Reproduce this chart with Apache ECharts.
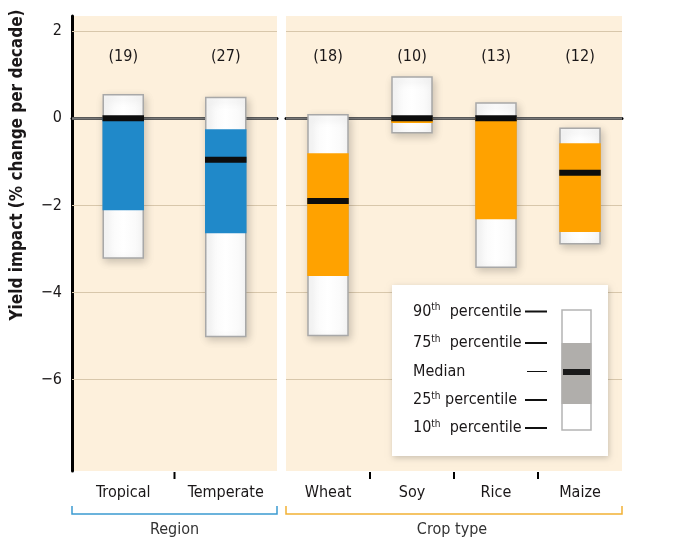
<!DOCTYPE html>
<html><head><meta charset="utf-8">
<script src="https://cdn.jsdelivr.net/npm/echarts@6/dist/echarts.min.js"></script>
<style>html,body{margin:0;padding:0;background:#fff}#c{width:693px;height:551px}</style>
</head><body><div id="c"></div>
<script>
// ---- data ----
const regionCats = ['Tropical', 'Temperate'];
const regionCounts = [19, 27];
const regionP10 = [-3.21, -5.01];
const regionP25 = [-2.11, -2.64];
const regionMedian = [0.0, -0.95];
const regionP75 = [0.0, -0.25];
const regionP90 = [0.54, 0.48];

const cropCats = ['Wheat', 'Soy', 'Rice', 'Maize'];
const cropCounts = [18, 10, 13, 12];
const cropP10 = [-4.99, -0.33, -3.42, -2.88];
const cropP25 = [-3.62, -0.11, -2.32, -2.61];
const cropMedian = [-1.90, 0.0, 0.0, -1.25];
const cropP75 = [-0.80, 0.0, 0.0, -0.57];
const cropP90 = [0.08, 0.95, 0.35, -0.23];

const yTickLabels = [2, 0, -2, -4, -6];
const yRange = [-8.1, 2.35];

// ---- styling ----
const FONT = '"Liberation Sans Narrow","DejaVu Sans Condensed","Noto Sans",sans-serif';
const TXT = '#1a1718';
const BG = '#fdf0dc';
const BLUE = '#2089c9';
const ORANGE = '#ffa200';
const COUNT_Y = 1.42;

function rows(p10, p25, med, p75, p90, counts) {
  return p10.map((v, i) => [i, p10[i], p25[i], med[i], p75[i], p90[i], counts[i]]);
}

function makeRender(color) {
  return function (params, api) {
    const i = api.value(0);
    const cx = api.coord([i, 0])[0];
    const bw = api.size([1, 0])[0];
    const w = 40;
    const x0 = cx - w / 2;
    const y10 = api.coord([i, api.value(1)])[1];
    const y25 = api.coord([i, api.value(2)])[1];
    const yMed = api.coord([i, api.value(3)])[1];
    const y75 = api.coord([i, api.value(4)])[1];
    const y90 = api.coord([i, api.value(5)])[1];
    const yBase = api.coord([i, yRange[0]])[1];
    const yCnt = api.coord([i, COUNT_Y])[1];
    const children = [
      { type: 'rect', shape: { x: x0, y: y90, width: w, height: y10 - y90 },
        style: { fill: { type: 'linear', x: 0, y: 0, x2: 1, y2: 0, colorStops: [
          { offset: 0, color: '#f7f7f7' }, { offset: 0.5, color: '#ffffff' }, { offset: 1, color: '#f7f7f7' }] },
          stroke: '#a8a8a8', lineWidth: 1.5, shadowBlur: 8, shadowColor: 'rgba(0,0,0,0.2)', shadowOffsetX: 2, shadowOffsetY: 3 } },
      { type: 'rect', shape: { x: x0 - 0.75, y: y75, width: w + 1.5, height: y25 - y75 }, style: { fill: color } },
      { type: 'rect', shape: { x: x0 - 0.75, y: yMed - 3, width: w + 1.5, height: 6 }, style: { fill: '#0d0d0d' } },
      { type: 'text', style: { text: '(' + api.value(6) + ')', x: cx, y: yCnt, align: 'center', verticalAlign: 'middle',
          font: '16px ' + FONT, fill: TXT } }
    ];
    if (i > 0) {
      children.push({ type: 'line', shape: { x1: cx - bw / 2, y1: yBase + 1, x2: cx - bw / 2, y2: yBase + 8 },
        style: { stroke: '#000', lineWidth: 2 } });
    }
    return { type: 'group', children };
  };
}

function gridLines() {
  return {
    silent: true, symbol: 'none', label: { show: false },
    data: yTickLabels.filter(v => v !== 0).map(v => ({ yAxis: v, lineStyle: { color: '#d8c7ab', width: 1, type: 'solid' } }))
      .concat([{ yAxis: 0, lineStyle: { color: '#777', width: 2.5, type: 'solid' } }])
  };
}

const fmtY = v => yTickLabels.includes(v) ? (v < 0 ? '\u2212' + Math.abs(v) : String(v)) : '';

const chart = echarts.init(document.getElementById('c'), null, { renderer: 'canvas' });

const legendRows = [
  ['{a|90}{s|th}{a|  percentile}', 311.5],
  ['{a|75}{s|th}{a|  percentile}', 343],
  ['{a|Median}', 371.5],
  ['{a|25}{s|th}{a| percentile}', 400],
  ['{a|10}{s|th}{a|  percentile}', 428]
];
const legendGraphics = [
  { type: 'rect', shape: { x: 392, y: 285, width: 216, height: 171 }, style: { fill: '#fff', shadowBlur: 6, shadowColor: 'rgba(0,0,0,0.2)', shadowOffsetX: 1, shadowOffsetY: 2 }, z: 10 }
];
legendRows.forEach((r, k) => {
  legendGraphics.push({ type: 'text', x: 413, y: r[1], z: 11, style: { text: r[0], verticalAlign: 'middle', align: 'left',
    rich: { a: { fontSize: 16, fontFamily: FONT, fill: TXT, lineHeight: 18 }, s: { fontSize: 10, fontFamily: FONT, fill: TXT, verticalAlign: 'top', lineHeight: 18 } } } });
  legendGraphics.push({ type: 'line', z: 11, shape: { x1: k === 2 ? 527 : 525, y1: r[1], x2: 547, y2: r[1] }, style: { stroke: '#111', lineWidth: k === 2 ? 1 : 2 } });
});
legendGraphics.push(
  { type: 'rect', z: 11, shape: { x: 562, y: 310, width: 29, height: 120 }, style: { fill: '#fff', stroke: '#b4b4b4', lineWidth: 1.5 } },
  { type: 'rect', z: 12, shape: { x: 561.5, y: 343, width: 30, height: 61 }, style: { fill: '#b0aeab' } },
  { type: 'rect', z: 13, shape: { x: 563, y: 369, width: 27, height: 6 }, style: { fill: '#1a1a1a' } }
);

chart.setOption({
  animation: false,
  backgroundColor: '#fff',
  grid: [
    { left: 72, right: 416, top: 16, bottom: 80, show: true, backgroundColor: BG, borderWidth: 0 },
    { left: 286, right: 71, top: 16, bottom: 80, show: true, backgroundColor: BG, borderWidth: 0 }
  ],
  xAxis: [
    { gridIndex: 0, type: 'category', data: regionCats, axisLine: { lineStyle: { color: '#000', width: 3 } }, axisTick: { show: false },
      axisLabel: { fontSize: 16, fontFamily: FONT, color: TXT, margin: 14 } },
    { gridIndex: 1, type: 'category', data: cropCats, axisLine: { lineStyle: { color: '#000', width: 3 } }, axisTick: { show: false },
      axisLabel: { fontSize: 16, fontFamily: FONT, color: TXT, margin: 14 } }
  ],
  yAxis: [
    { gridIndex: 0, type: 'value', min: yRange[0], max: yRange[1], splitNumber: 5,
      axisLine: { show: true, lineStyle: { color: '#000', width: 3 } }, axisTick: { show: false }, splitLine: { show: false },
      axisLabel: { formatter: fmtY, fontSize: 16, fontFamily: FONT, color: TXT, margin: 10, showMinLabel: true, showMaxLabel: true } },
    { gridIndex: 1, type: 'value', min: yRange[0], max: yRange[1], splitNumber: 5,
      axisLine: { show: false }, axisTick: { show: false }, splitLine: { show: false }, axisLabel: { show: false } }
  ],
  series: [
    { type: 'line', xAxisIndex: 0, yAxisIndex: 0, data: [], z: 1, markLine: gridLines() },
    { type: 'line', xAxisIndex: 1, yAxisIndex: 1, data: [], z: 1, markLine: gridLines() },
    { type: 'custom', xAxisIndex: 0, yAxisIndex: 0, z: 5, clip: false, renderItem: makeRender(BLUE),
      data: rows(regionP10, regionP25, regionMedian, regionP75, regionP90, regionCounts) },
    { type: 'custom', xAxisIndex: 1, yAxisIndex: 1, z: 5, clip: false, renderItem: makeRender(ORANGE),
      data: rows(cropP10, cropP25, cropMedian, cropP75, cropP90, cropCounts) }
  ],
  graphic: [
    { type: 'text', x: 18, y: 165, rotation: Math.PI / 2, style: { text: 'Yield impact (% change per decade)', align: 'center', verticalAlign: 'middle',
        font: 'bold 17px ' + FONT, fill: TXT } },
    { type: 'polyline', shape: { points: [[72, 506], [72, 514], [277, 514], [277, 506]] }, style: { stroke: '#3b9bd1', lineWidth: 1.5, fill: null } },
    { type: 'polyline', shape: { points: [[286, 506], [286, 514], [622, 514], [622, 506]] }, style: { stroke: '#f2b134', lineWidth: 1.5, fill: null } },
    { type: 'text', x: 174.5, y: 530, style: { text: 'Region', align: 'center', verticalAlign: 'middle', font: '16px ' + FONT, fill: '#333' } },
    { type: 'text', x: 452, y: 530, style: { text: 'Crop type', align: 'center', verticalAlign: 'middle', font: '16px ' + FONT, fill: '#333' } }
  ].concat(legendGraphics)
});
</script>
</body></html>
